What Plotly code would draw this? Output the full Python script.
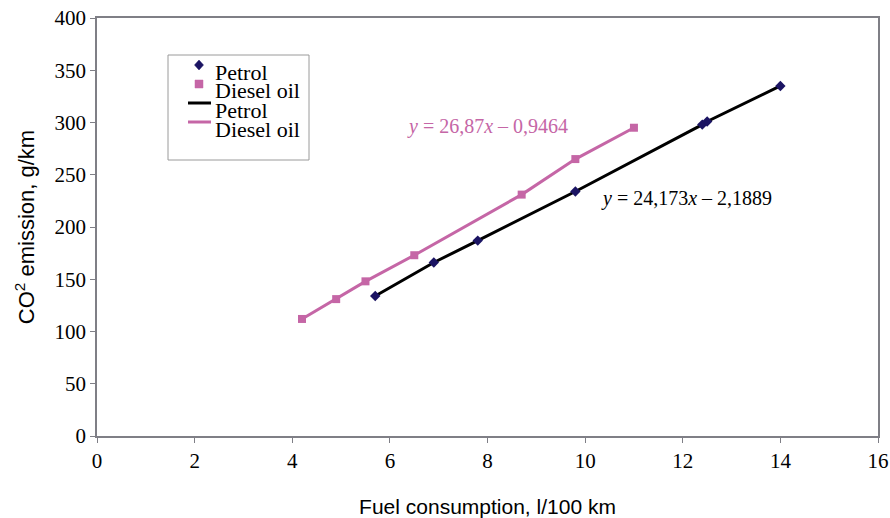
import plotly.graph_objects as go

petrol_x = [5.7, 6.9, 7.8, 9.8, 12.4, 12.5, 14.0]
petrol_y = [134, 166, 187, 234, 298, 301, 335]
diesel_x = [4.2, 4.9, 5.5, 6.5, 8.7, 9.8, 11.0]
diesel_y = [112, 131, 148, 173, 231, 265, 295]

x_ticks = [0, 2, 4, 6, 8, 10, 12, 14, 16]
y_ticks = [0, 50, 100, 150, 200, 250, 300, 350, 400]

legend_labels = ["Petrol", "Diesel oil", "Petrol", "Diesel oil"]

PINK = "#c566a6"
NAVY = "#1b1463"
SERIF = "Liberation Serif, Times New Roman, serif"
SANS = "Liberation Sans, Arial, sans-serif"

W, H = 890, 518
ML, MR, MT, MB = 97, 12, 18, 82
PW, PH = W - ML - MR, H - MT - MB


def px(x):
    return (x - ML) / PW


def py(y):
    return (H - MB - y) / PH


fig = go.Figure()
fig.add_trace(go.Scatter(x=petrol_x, y=petrol_y, mode="lines", name="Petrol",
                         line=dict(color="black", width=3), showlegend=False))
fig.add_trace(go.Scatter(x=diesel_x, y=diesel_y, mode="lines", name="Diesel oil",
                         line=dict(color=PINK, width=3), showlegend=False))
fig.add_trace(go.Scatter(x=petrol_x, y=petrol_y, mode="markers", name="Petrol",
                         marker=dict(symbol="diamond", size=8, color=NAVY), showlegend=False))
fig.add_trace(go.Scatter(x=diesel_x, y=diesel_y, mode="markers", name="Diesel oil",
                         marker=dict(symbol="square", size=8, color=PINK), showlegend=False))

fig.add_annotation(x=7.99, y=296, text="<i>y</i> = 26,87<i>x</i> – 0,9464",
                   showarrow=False, font=dict(family=SERIF, size=20, color=PINK))
fig.add_annotation(x=12.07, y=227, text="<i>y</i> = 24,173<i>x</i> – 2,1889",
                   showarrow=False, font=dict(family=SERIF, size=20, color="black"))

# manual legend box
shapes = []
shapes.append(dict(type="rect", xref="paper", yref="paper",
                   x0=px(168), x1=px(309), y0=py(160), y1=py(55),
                   line=dict(color="#9a9a9a", width=1), fillcolor="white", layer="above"))
# diamond symbol
cx, cy = 199, 65
shapes.append(dict(type="path", xref="paper", yref="paper",
                   path=f"M {px(cx)},{py(cy-5)} L {px(cx+4.5)},{py(cy)} L {px(cx)},{py(cy+5)} L {px(cx-4.5)},{py(cy)} Z",
                   fillcolor=NAVY, line=dict(color=NAVY, width=0.5), layer="above"))
# square symbol
cx, cy = 199, 84
shapes.append(dict(type="rect", xref="paper", yref="paper",
                   x0=px(cx-4), x1=px(cx+4), y0=py(cy+4), y1=py(cy-4),
                   fillcolor=PINK, line=dict(color=PINK, width=0.5), layer="above"))
# line symbols
shapes.append(dict(type="line", xref="paper", yref="paper",
                   x0=px(188), x1=px(211), y0=py(103), y1=py(103),
                   line=dict(color="black", width=3), layer="above"))
shapes.append(dict(type="line", xref="paper", yref="paper",
                   x0=px(188), x1=px(211), y0=py(122), y1=py(122),
                   line=dict(color=PINK, width=3), layer="above"))

label_y = [72, 91, 110, 129]
for lab, ly in zip(legend_labels, label_y):
    fig.add_annotation(xref="paper", yref="paper", x=px(213), y=py(ly),
                       xanchor="left", yanchor="middle", text=lab, showarrow=False,
                       font=dict(family=SERIF, size=22, color="black"))

axis_common = dict(showgrid=False, zeroline=False, showline=True, linecolor="#7f7f86",
                   linewidth=1.5, mirror=True, ticks="outside", ticklen=5,
                   tickcolor="#7f7f86", automargin=False,
                   tickfont=dict(family=SERIF, size=21, color="black"))

fig.update_xaxes(range=[0, 16], tickvals=x_ticks, **axis_common,
                 title=dict(text="Fuel consumption, l/100 km",
                            font=dict(family=SANS, size=21, color="black"), standoff=28))
fig.update_yaxes(range=[0, 400], tickvals=y_ticks, **axis_common,
                 title=dict(text="CO<sup>2</sup> emission, g/km",
                            font=dict(family=SANS, size=22, color="black"), standoff=14))

fig.update_layout(
    width=W, height=H,
    margin=dict(l=ML, r=MR, t=MT, b=MB),
    paper_bgcolor="white", plot_bgcolor="white",
    shapes=shapes,
    showlegend=False,
)

fig.write_html("out.html")
